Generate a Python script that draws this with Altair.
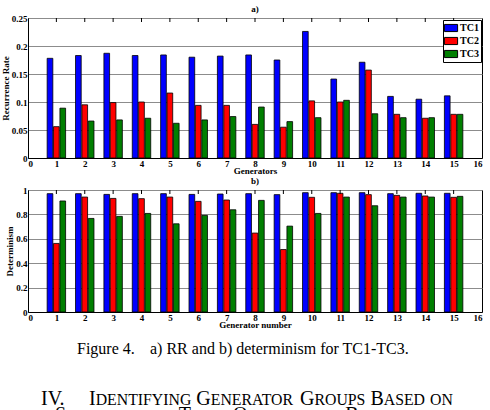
import altair as alt
import pandas as pd

# ---------------- data ----------------
generators = list(range(1, 16))
series = ["TC1", "TC2", "TC3"]
colors = ["#0000ff", "#ff0000", "#007f00"]

rr_tc1 = [0.178, 0.183, 0.187, 0.183, 0.184, 0.180, 0.182, 0.184, 0.175, 0.226, 0.141, 0.171, 0.110, 0.105, 0.111]
rr_tc2 = [0.056, 0.095, 0.099, 0.100, 0.116, 0.094, 0.094, 0.060, 0.055, 0.102, 0.100, 0.157, 0.078, 0.071, 0.078]
rr_tc3 = [0.089, 0.066, 0.068, 0.071, 0.062, 0.068, 0.074, 0.091, 0.065, 0.072, 0.103, 0.079, 0.072, 0.072, 0.078]

det_tc1 = [0.970, 0.970, 0.964, 0.970, 0.970, 0.964, 0.967, 0.970, 0.962, 0.978, 0.978, 0.978, 0.970, 0.973, 0.973]
det_tc2 = [0.562, 0.942, 0.931, 0.929, 0.942, 0.907, 0.918, 0.647, 0.512, 0.940, 0.973, 0.962, 0.956, 0.951, 0.940]
det_tc3 = [0.910, 0.767, 0.784, 0.808, 0.723, 0.792, 0.838, 0.915, 0.704, 0.808, 0.942, 0.871, 0.942, 0.942, 0.948]

x_ticks = list(range(0, 17))
rr_ticks = [0, 0.05, 0.1, 0.15, 0.2, 0.25]
det_ticks = [0, 0.2, 0.4, 0.6, 0.8, 1]

caption_parts = ["Figure 4.", "a) RR and b) determinism for TC1-TC3."]
heading_num = "IV."
heading_line1 = "IDENTIFYING GENERATOR GROUPS BASED ON"
heading_line1_lower = ["ON"]
heading_line2 = "SIMILARITY OF THEIR OSCILLATION BEHAVIOR"
heading_line2_lower = ["OF"]

FONT = "Liberation Serif"

# ---------------- layout constants ----------------
LEFT = 30          # plot origin x (width of y title + labels)
PLOT_W = 454
P3_TOP = 331       # top of the caption area
P3_H = 410 - P3_TOP


def long_form(a, b, c):
    rows = []
    for i, g in enumerate(generators):
        for k, vals in enumerate((a, b, c)):
            rows.append({"gen": g, "series": series[k], "k": k, "value": vals[i]})
    return pd.DataFrame(rows)


def panel(df, yticks, ytitle, xtitle, title, width, height, legend):
    xaxis = alt.Axis(values=x_ticks, format="d", title=xtitle, ticks=False,
                     labelPadding=1, titlePadding=-2, grid=False)
    xscale = alt.Scale(domain=[0, 16], nice=False, zero=False)
    color = alt.Color("series:N", scale=alt.Scale(domain=series, range=colors), legend=legend)
    bars = alt.Chart(df).transform_calculate(
        x0="datum.gen + (datum.k - 1) * 0.225 - 0.1",
        x1="datum.gen + (datum.k - 1) * 0.225 + 0.1",
    ).mark_bar(stroke="black", strokeWidth=0.8).encode(
        x=alt.X("x0:Q", scale=xscale, axis=xaxis),
        x2="x1:Q",
        y=alt.Y("value:Q", scale=alt.Scale(domain=[yticks[0], yticks[-1]], nice=False),
                axis=alt.Axis(values=yticks, format="~g", title=ytitle, ticks=False,
                              labelPadding=1, titlePadding=1, grid=True)),
        y2=alt.datum(0),
        color=color,
    )
    ticks = alt.Chart(pd.DataFrame({"t": generators})).mark_rule(color="black", strokeWidth=1).encode(
        x=alt.X("t:Q", scale=xscale, axis=xaxis),
        y=alt.value(0),
        y2=alt.value(4),
    )
    return alt.layer(bars, ticks).properties(
        width=width, height=height,
        title=alt.Title(title, fontSize=9, font=FONT, fontWeight="bold", offset=0, anchor="middle"),
    )


legend_top = alt.Legend(
    orient="none", legendX=PLOT_W - 39, legendY=2, title=None,
    strokeColor="black", fillColor="white", padding=2, cornerRadius=0,
    symbolType="M-1.2,-0.65H1.2V0.65H-1.2Z", symbolSize=121, symbolStrokeColor="black",
    symbolStrokeWidth=1, labelFont=FONT, labelFontWeight="bold", labelFontSize=10,
    rowPadding=1, labelOffset=3,
)

top = panel(long_form(rr_tc1, rr_tc2, rr_tc3), rr_ticks, "Recurrence Rate", "Generators", "a)",
            PLOT_W, 140, legend_top)
bottom = panel(long_form(det_tc1, det_tc2, det_tc3), det_ticks, "Determinism", "Generator number", "b)",
               PLOT_W, 122, None)

# ---------------- caption text (page layout) ----------------
# Times / Liberation Serif advance widths (per 1000 em)
W = {"A": 722, "B": 667, "C": 667, "D": 722, "E": 611, "F": 556, "G": 722, "H": 722, "I": 333,
     "J": 389, "K": 722, "L": 611, "M": 889, "N": 722, "O": 722, "P": 556, "Q": 722, "R": 667,
     "S": 556, "T": 611, "U": 722, "V": 722, "W": 944, "X": 722, "Y": 722, "Z": 611, " ": 250, ".": 250}
BIG, SMALL = 20, 15.8

rows = []


def add(txt, x, y, fs):
    rows.append({"px": x - LEFT, "py": y - P3_TOP, "txt": txt, "fs": fs})


add(caption_parts[0], 79, 354, 16)
add(caption_parts[1], 152, 354, 16)
add(heading_num, 43, 405, BIG)


def small_caps(text, lower, x, y):
    for word in text.split(" "):
        if word in lower:
            pieces = [(word, SMALL)]
        else:
            pieces = [(word[0], BIG), (word[1:], SMALL)]
        for s, fs in pieces:
            if s:
                add(s, x, y, fs)
                x += sum(W[c] for c in s) * fs / 1000.0
        x += W[" "] * BIG / 1000.0


small_caps(heading_line1, heading_line1_lower, 91, 405)
small_caps(heading_line2, heading_line2_lower, 57, 421)

caption = alt.Chart(pd.DataFrame(rows)).mark_text(
    align="left", baseline="alphabetic", font=FONT, color="black", clip=True
).encode(
    x=alt.X("px:Q", scale=None, axis=None),
    y=alt.Y("py:Q", scale=None, axis=None),
    text="txt:N",
    size=alt.Size("fs:Q", scale=None, legend=None),
).properties(width=490 - LEFT - 2, height=P3_H, view=alt.ViewBackground(stroke="transparent"))

chart = alt.vconcat(
    top, bottom, caption, spacing=0,
).resolve_scale(color="independent").properties(
    padding={"left": 0, "top": 4, "right": 0, "bottom": 0},
).configure_view(
    stroke="black", strokeWidth=1,
).configure_axis(
    labelFont=FONT, labelFontWeight="bold", labelFontSize=9, labelColor="black",
    titleFont=FONT, titleFontWeight="bold", titleFontSize=9, titleColor="black",
    domainColor="black", gridColor="#8c8c8c", gridWidth=1,
)

chart.save("out.html", embed_options={"renderer": "svg", "actions": False})
